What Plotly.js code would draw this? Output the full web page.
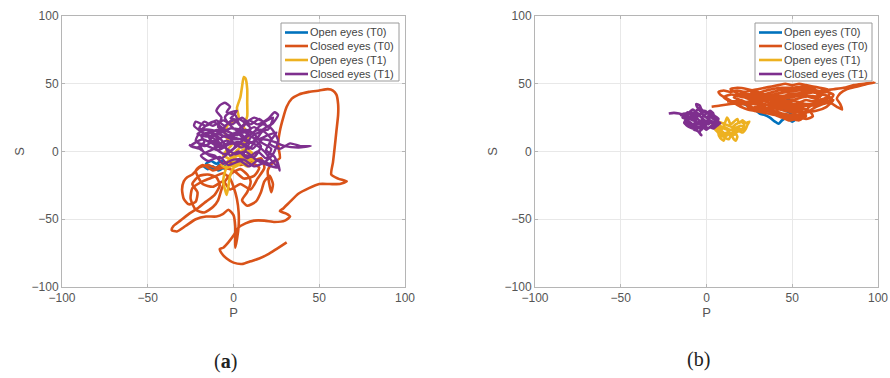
<!DOCTYPE html>
<html>
<head>
<meta charset="utf-8">
<script src="https://cdn.plot.ly/plotly-3.0.1.min.js"></script>
<style>html,body{margin:0;padding:0;background:#fff;}#chart{width:890px;height:378px;}</style>
</head>
<body>
<div id="chart"></div>
<script>
// ---------- Labels ----------
const seriesNames = ["Open eyes (T0)", "Closed eyes (T0)", "Open eyes (T1)", "Closed eyes (T1)"];
const captions = ["(<b>a</b>)", "(b)"];
const tickVals = [-100, -50, 0, 50, 100];

// ---------- Data (a): [P, S] pairs ----------
const aOpenT0 = [[-18,-10],[-15,-13],[-12,-11],[-9,-14],[-6,-12],[-4,-9],[-7,-7],[-10,-9],[-13,-7],[-16,-9],[-14,-11],[-11,-13],[-8,-10],[-5,-13],[-3,-10]];

const aClosedT0 = [[10,-8],[15,-12],[12,-18],[6,-20],[0,-14],[-6,-12],[-12,-14],[-18,-10],[-22,-14],[-18,-24],[-12,-26],[-6,-22],[-2,-28],[4,-24],[10,-28],[14,-20],[18,-12],[16,-5],[10,-8],[4,-10],[-5,-8],[-10,-12],[-15,-10],[-20,-12],[-24,-17],[-27,-19],[-29,-22],[-30,-28],[-29,-35],[-26,-39],[-22,-37],[-21,-30],[-24,-24],[-20,-18],[-15,-17],[-10,-19],[-8,-25],[-11,-32],[-16,-37],[-21,-42],[-26,-46],[-31,-51],[-35,-55],[-36,-58],[-33,-59],[-28,-55],[-22,-50],[-16,-48],[-10,-48],[-6,-46],[-3,-43],[0,-47],[1,-55],[1,-64],[1,-71],[2,-65],[3,-55],[3,-45],[2,-35],[0,-26],[-2,-20],[-6,-16],[-12,-19],[-18,-22],[-24,-27],[-25,-35],[-22,-43],[-17,-45],[-12,-41],[-9,-36],[-7,-28],[-5,-22],[-1,-16],[4,-13],[8,-17],[10,-22],[8,-30],[5,-36],[8,-40],[13,-37],[16,-30],[18,-22],[21,-18],[23,-24],[22,-30],[20,-14],[23,-8],[27,-5],[26,5],[27,15],[29,25],[31,33],[34,39],[38,42],[44,44],[50,45],[55,46],[58,45],[60,42],[61,35],[61,27],[60,15],[59,3],[58,-8],[57,-17],[61,-20],[66,-22],[62,-24],[56,-24],[50,-24],[44,-27],[38,-31],[33,-37],[29,-42],[27,-44],[31,-46],[33,-48],[30,-51],[24,-52],[18,-51],[12,-51],[7,-53],[3,-56],[0,-62],[-3,-67],[-6,-71],[-8,-72],[-7,-75],[-4,-79],[0,-82],[5,-83],[10,-81],[15,-79],[20,-76],[25,-72],[31,-67]];

const aOpenT1 = [[0,-5],[4,-2],[8,-6],[11,-2],[7,2],[3,-1],[-1,-4],[-4,-8],[-7,-10],[-4,-12],[0,-10],[4,-8],[8,-11],[12,-7],[9,-4],[5,-6],[1,-8],[-3,-5],[-6,-3],[-4,1],[-1,5],[-4,10],[-5,15],[-3,20],[0,22],[3,25],[2,32],[4,40],[5,48],[6,55],[7,54],[8,46],[8,36],[8,26],[6,18],[9,12],[6,6],[3,2],[0,-2],[-3,-8],[-5,-15],[-6,-22],[-5,-28],[-4,-32],[-3,-26],[-2,-18],[0,-12],[3,-10],[7,-4],[10,0],[12,-4],[8,-8],[4,-4],[1,-1],[-2,-3],[2,-6],[6,-9]];

const aClosedT1 = [[-26,5],[-21,3],[-17,7],[-19,12],[-14,14],[-9,9],[-11,3],[-5,-2],[1,4],[-2,10],[4,13],[9,6],[6,-2],[12,-4],[16,4],[11,11],[17,15],[22,9],[19,1],[24,-4],[27,-14],[25,-6],[21,-9],[15,-6],[9,-11],[4,-7],[-3,-10],[-8,-4],[-15,-7],[-19,-3],[-13,1],[-7,5],[-12,10],[-18,14],[-23,19],[-22,22],[-16,19],[-10,23],[-5,19],[0,24],[5,18],[9,23],[14,20],[20,24],[24,29],[26,27],[23,21],[18,17],[13,13],[7,16],[2,12],[-4,15],[-9,18],[-7,25],[-10,30],[-8,34],[-5,36],[-2,33],[-4,29],[1,27],[3,21],[8,13],[14,9],[20,12],[25,14],[21,6],[27,2],[33,6],[39,4],[45,4],[38,3],[30,4],[24,7],[17,9],[11,2],[5,6],[-1,1],[-7,-5],[-14,-3],[-20,2],[-25,4],[-18,9],[-12,6],[-6,11],[0,9],[6,10],[10,17],[3,24],[-3,21],[-9,13],[-16,11],[-21,13],[-16,16],[-11,13],[-6,7],[-2,-3],[3,0],[8,-5],[14,0],[19,-5],[22,2],[16,7],[12,14],[17,20],[22,17],[26,8],[23,-2],[18,-8],[12,-11],[6,-6],[0,-6],[-6,-9],[-11,-3],[-17,-1],[-20,6],[-15,4],[-9,1],[-3,5],[3,7],[9,2],[15,12],[19,19],[15,24],[10,20],[5,25],[-1,20],[-6,23],[-12,19],[-17,22],[-20,17],[-13,16],[-7,14],[-2,17],[4,16],[10,11],[5,3],[-2,7],[-8,3],[-14,8],[-10,13],[-4,11],[2,14],[7,8],[13,5],[18,0],[23,-8],[26,-12],[20,-10],[13,-6],[7,0],[1,-2],[-5,3],[-11,8],[-17,4],[-22,8],[-18,17],[-12,22],[-6,17],[0,13],[6,20],[12,25],[18,22],[23,25],[20,16],[14,16],[8,11],[2,5],[-4,8],[-10,5],[-15,12],[-9,16],[-3,12],[4,9],[11,7],[16,14],[12,18],[6,14],[0,17],[-5,25],[-3,28],[2,30],[-2,24]];

// ---------- Data (b) ----------
const bOpenT0 = [[17,38],[22,35],[28,31],[31,28],[34,27],[37,25],[40,22],[42,20.5],[44,23],[47,25],[50,22],[52,24],[48,29],[44,31],[40,33],[45,36],[48,39],[50,34],[54,30],[56,27],[52,26],[46,27],[40,28],[36,30],[30,32]];

const bClosedT0 = [[3,33],[8,34],[14,35],[20,36],[26,37],[32,38],[38,40],[44,41],[50,42],[56,43],[62,44],[68,45],[74,46],[80,47],[86,49],[92,50],[98,51],[94,50],[88,48],[82,46],[78,43],[76,39],[78,35],[79,31],[76,33],[72,36],[68,35],[64,33],[60,30],[56,27],[52,24],[48,23],[44,25],[40,27],[36,28],[32,29],[28,30],[24,31],[20,33],[16,36],[12,39],[8,42],[7,44],[10,45],[14,44],[18,45],[22,44],[26,45],[30,46],[34,47],[38,48],[42,49],[46,50],[50,49],[54,50],[58,49],[62,48],[66,47],[70,46],[72,43],[70,40],[66,38],[62,37],[58,38],[54,36],[50,34],[46,33],[42,31],[38,33],[34,35],[30,36],[26,38],[22,40],[18,41],[22,42],[28,42],[34,41],[40,42],[46,44],[52,45],[58,46],[64,43],[66,40],[62,41],[56,40],[50,38],[44,37],[38,36],[32,33],[28,33],[32,31],[38,30],[44,28],[50,27],[56,28],[60,33],[64,36],[68,38],[72,40],[68,42],[62,40],[56,42],[50,40],[44,39],[38,38],[34,40],[30,43],[26,44],[30,41],[36,43],[42,45],[48,46],[54,47],[60,47],[64,45],[60,43],[54,43],[48,42],[42,40],[36,39],[30,38],[24,36],[20,38],[16,40],[20,43],[24,42],[28,40],[34,37],[40,35],[46,35],[52,33],[56,31],[52,29],[46,30],[40,32],[36,31],[42,29],[48,26],[54,25],[58,26],[54,30],[48,31],[44,33],[40,34],[46,37],[52,37],[58,35],[62,35],[66,34],[70,37],[74,38],[70,33],[64,30],[58,29],[52,31],[46,34],[40,37],[34,38],[28,36],[24,33],[28,31],[34,32],[40,29],[46,27],[52,26],[58,24],[62,26],[60,30],[54,33],[48,36],[42,38],[36,41],[30,44],[24,46],[18,47],[14,46],[18,43],[24,40],[30,39],[36,41],[42,43],[48,44],[54,45],[60,44],[66,43],[70,44],[74,42],[72,38],[68,36],[62,34],[56,34],[50,35],[44,35],[38,34],[32,35],[26,35],[20,35],[14,37],[10,40],[14,42],[20,41],[26,41],[32,44],[38,46],[44,47],[50,47],[56,48],[62,46],[68,43],[64,39],[58,41],[52,42],[46,41],[40,40],[34,38],[30,34],[36,32],[42,33],[48,32],[54,29],[58,27],[54,23],[48,25],[42,27],[36,30],[30,31],[24,34],[18,37],[12,37]];

const bOpenT1 = [[4,20],[6,18],[8,16],[7,13],[8,10],[10,8],[11,11],[13,13],[15,11],[16,9],[17,8],[18,11],[17,14],[19,15],[21,14],[23,17],[24,20],[25,22],[23,21],[21,23],[19,21],[18,24],[16,22],[14,20],[13,23],[12,25],[11,22],[10,19],[12,17],[14,16],[16,17],[18,18],[20,19],[22,18],[20,16],[18,15],[16,14],[14,13],[12,14],[10,13],[8,14],[9,17],[7,19],[5,21],[3,19],[5,17],[7,15],[9,12],[11,10],[13,9],[14,12],[12,16],[10,17],[8,19],[6,21],[4,18],[6,15],[8,12],[10,11],[12,12],[15,14],[17,16],[19,17],[21,16],[22,20],[20,22],[17,20],[15,18],[13,19],[11,20],[9,21],[7,22],[5,19],[7,17],[9,15],[11,13],[13,15],[15,16],[17,13],[15,12]];

const bClosedT1 = [[-22,28],[-19,28.5],[-16,28],[-13,27],[-11,29],[-9,27],[-10,24],[-12,22],[-10,20],[-8,18],[-6,19],[-7,22],[-5,24],[-3,21],[-1,23],[1,20],[3,22],[5,21],[7,24],[5,26],[3,25],[1,28],[-1,30],[-3,29],[-5,32],[-6,35],[-4,34],[-3,31],[-2,27],[0,25],[2,27],[4,24],[6,22],[8,21],[6,19],[4,17],[2,18],[0,16],[-2,18],[-4,14],[-3,12],[-5,15],[-7,16],[-9,18],[-11,19],[-13,21],[-12,24],[-14,25],[-12,27],[-10,29],[-8,31],[-6,29],[-4,27],[-6,25],[-8,23],[-10,25],[-8,27],[-6,30],[-4,32],[-2,30],[0,28],[2,30],[4,28],[2,25],[0,22],[-2,24],[-4,22],[-6,21],[-8,20],[-10,22],[-12,20],[-10,18],[-7,17],[-5,18],[-3,16],[-1,19],[1,17],[3,19],[5,18],[4,21],[2,23],[0,20],[-2,21],[-5,20],[-7,24],[-9,26],[-11,25],[-13,26],[-15,27],[-13,28],[-11,27],[-9,29],[-7,28],[-5,26],[-3,28],[-1,26],[1,24],[3,26],[5,24],[7,22],[5,20],[3,21],[1,22],[-1,21],[-3,19],[-5,17],[-7,19],[-9,21],[-11,23],[-9,24],[-7,26],[-5,28],[-3,25],[-1,27],[1,29],[3,28],[5,26],[6,24]];

// ---------- Style ----------
const colors = ["#0072BD", "#D95319", "#EDB120", "#7E2F8E"];
const FONT = "Liberation Sans, Arial, sans-serif";

function tr(pairs, i, xa, ya, w) {
  return {
    x: pairs.map(p => p[0]), y: pairs.map(p => p[1]),
    type: "scatter", mode: "lines", name: seriesNames[i],
    xaxis: xa, yaxis: ya, showlegend: false,
    line: {color: colors[i], width: w, shape: "spline", smoothing: 0.6},
    hoverinfo: "skip"
  };
}

const data = [
  tr(aOpenT0, 0, "x", "y", 2.6),
  tr(aClosedT0, 1, "x", "y", 2.6),
  tr(aOpenT1, 2, "x", "y", 2.6),
  tr(aClosedT1, 3, "x", "y", 2.4),
  tr(bOpenT0, 0, "x2", "y2", 2.6),
  tr(bClosedT0, 1, "x2", "y2", 2.6),
  tr(bOpenT1, 2, "x2", "y2", 2.6),
  tr(bClosedT1, 3, "x2", "y2", 2.6)
];

const tickFont = {family: FONT, size: 12, color: "#555"};
function ax(domain, anchor, t, so) {
  return {
    domain: domain, anchor: anchor, range: [-100, 100], tickvals: tickVals,
    showgrid: true, gridcolor: "#e8e8e8", gridwidth: 1, zeroline: false,
    showline: true, linecolor: "#b5b5b5", linewidth: 1, mirror: "ticks",
    ticks: "inside", ticklen: 3, tickcolor: "#b5b5b5",
    tickfont: tickFont,
    title: {text: t, font: {family: FONT, size: 13, color: "#555"}, standoff: so}
  };
}
const yDom = [1 - 287/378, 1 - 16/378];

// ---------- Legend boxes (paper coordinates) ----------
const W = 890, H = 378;
const shapes = [], annotations = [];
function legendBox(x0, x1, lineX0, lineX1, textX) {
  shapes.push({type: "rect", xref: "paper", yref: "paper", layer: "above",
    x0: x0/W, x1: x1/W, y0: 1 - 81/H, y1: 1 - 23/H,
    fillcolor: "#ffffff", line: {color: "#9a9a9a", width: 1}});
  const ys = [32.5, 46, 60, 74];
  seriesNames.forEach((nm, i) => {
    shapes.push({type: "line", xref: "paper", yref: "paper", layer: "above",
      x0: lineX0/W, x1: lineX1/W, y0: 1 - ys[i]/H, y1: 1 - ys[i]/H,
      line: {color: colors[i], width: 2.6}});
    annotations.push({text: nm, xref: "paper", yref: "paper", x: textX/W, y: 1 - ys[i]/H,
      xanchor: "left", yanchor: "middle", showarrow: false,
      font: {family: FONT, size: 11, color: "#444"}});
  });
}
legendBox(281, 399, 285, 308, 308);
legendBox(755, 872, 759, 782, 782);

annotations.push(
  {text: captions[0], x: 225/W, y: 1 - 361/H, xref: "paper", yref: "paper",
   xanchor: "center", yanchor: "middle", showarrow: false,
   font: {family: "Liberation Serif, Times New Roman, serif", size: 20, color: "#222"}},
  {text: captions[1], x: 698/W, y: 1 - 359/H, xref: "paper", yref: "paper",
   xanchor: "center", yanchor: "middle", showarrow: false,
   font: {family: "Liberation Serif, Times New Roman, serif", size: 20, color: "#222"}}
);

const layout = {
  width: W, height: H,
  margin: {l: 0, r: 0, t: 0, b: 0},
  paper_bgcolor: "#ffffff", plot_bgcolor: "#ffffff",
  showlegend: false,
  xaxis: ax([62/W, 405/W], "y", "P", 2),
  yaxis: ax(yDom, "x", "S", 4),
  xaxis2: ax([535/W, 878/W], "y2", "P", 2),
  yaxis2: ax(yDom, "x2", "S", 4),
  shapes: shapes,
  annotations: annotations
};

Plotly.newPlot("chart", data, layout, {displayModeBar: false, staticPlot: true});
</script>
</body>
</html>
